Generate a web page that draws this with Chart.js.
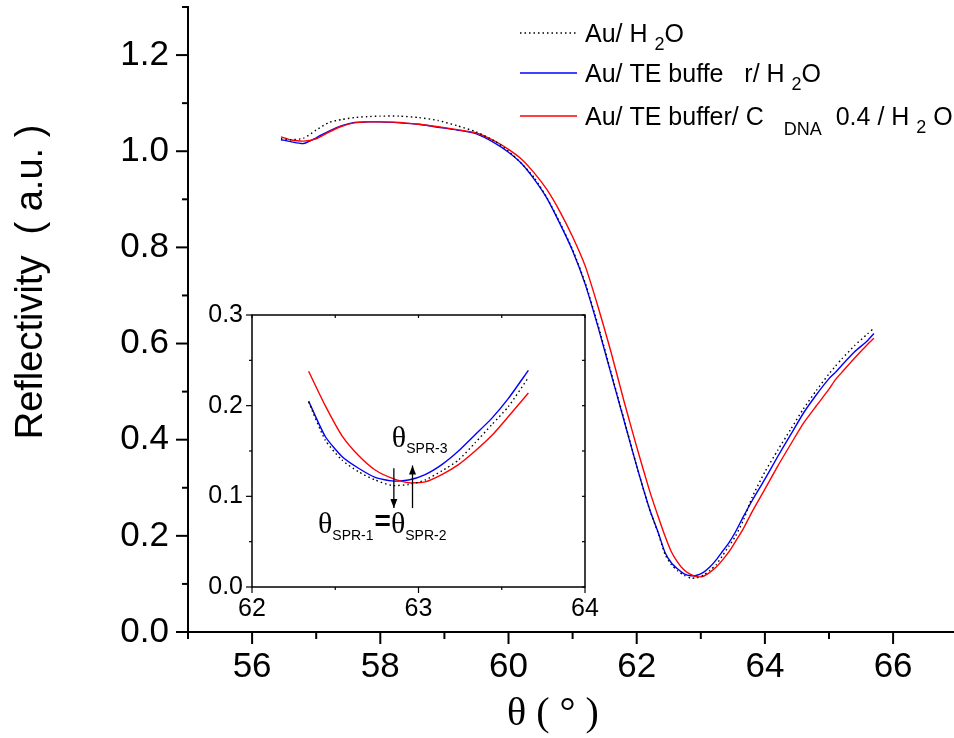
<!DOCTYPE html>
<html><head><meta charset="utf-8">
<script src="https://cdn.jsdelivr.net/npm/chart.js@4.4.1/dist/chart.umd.min.js"></script>
<style>
html,body{margin:0;padding:0;background:#fff;overflow:hidden;}
#wrap{position:relative;width:954px;height:738px;}
#main{position:absolute;left:0;top:0;}
#inset{position:absolute;left:190px;top:300px;}
</style></head>
<body><div id="wrap"><canvas id="main" width="954" height="738"></canvas><canvas id="inset" width="410" height="330"></canvas></div>
<script>
// ---------------- data ----------------
const theta = [56.45,56.6,56.8,57.0,57.2,57.4,57.6,57.8,58.0,58.3,58.6,58.9,59.2,59.5,59.8,60.0,60.2,60.4,60.6,60.8,61.0,61.2,61.4,61.6,61.8,62.0,62.2,62.34,62.44,62.54,62.64,62.74,62.84,62.94,63.04,63.14,63.24,63.34,63.44,63.54,63.66,63.8,64.0,64.2,64.4,64.6,64.8,65.0,65.1,65.2,65.4,65.6,65.7];
const auH2O = [1.026,1.024,1.027,1.044,1.060,1.066,1.070,1.072,1.073,1.073,1.070,1.064,1.053,1.040,1.020,1.000,0.975,0.945,0.903,0.852,0.795,0.725,0.637,0.540,0.443,0.345,0.255,0.204,0.162,0.140,0.127,0.118,0.112,0.113,0.118,0.128,0.140,0.159,0.179,0.199,0.231,0.280,0.333,0.378,0.421,0.464,0.502,0.537,0.553,0.568,0.596,0.620,0.632];
const auTE = [1.024,1.020,1.016,1.028,1.042,1.053,1.060,1.061,1.061,1.059,1.056,1.050,1.044,1.036,1.016,0.998,0.975,0.942,0.902,0.850,0.793,0.722,0.633,0.537,0.441,0.345,0.256,0.205,0.166,0.144,0.131,0.121,0.117,0.118,0.124,0.135,0.150,0.168,0.186,0.208,0.239,0.273,0.318,0.365,0.410,0.455,0.493,0.527,0.540,0.555,0.583,0.606,0.621];
const auDNA = [1.030,1.024,1.021,1.026,1.040,1.052,1.059,1.061,1.061,1.060,1.056,1.051,1.045,1.038,1.020,1.004,0.984,0.955,0.920,0.875,0.822,0.760,0.675,0.582,0.481,0.385,0.294,0.238,0.200,0.167,0.145,0.129,0.120,0.115,0.116,0.124,0.135,0.150,0.167,0.188,0.214,0.250,0.297,0.345,0.390,0.434,0.470,0.505,0.525,0.540,0.570,0.598,0.611];
const seriesNames = ['Au/ H2O', 'Au/ TE buffer/ H2O', 'Au/ TE buffer/ C DNA 0.4 / H2O'];
// legend text runs: [text, kind] kind 0 = normal, 1/2 = subscript
const legendRuns = [
  [['Au/ H ',0],['2',1],['O',0]],
  [['Au/ TE buffe   r/ H ',0],['2',1],['O',0]],
  [['Au/ TE buffer/ C',0],['    DNA',2],['  0.4 / H ',0],['2',1],[' O',0]]
];
const mainXTicks = [55,56,57,58,59,60,61,62,63,64,65,66];
const mainYTicks = [0,0.1,0.2,0.3,0.4,0.5,0.6,0.7,0.8,0.9,1.0,1.1,1.2,1.3];
const insetXTicks = [62,62.5,63,63.5,64];
const insetYTicks = [0,0.05,0.1,0.15,0.2,0.25,0.3];
const insetRange = [62.3, 63.7];
const xTitle = 'θ ( ° )';
const yTitle = 'Reflectivity  ( a.u. )';
// inset annotation anchors (data coordinates)
const arrowDown = {x: 62.852, from: 0.131, to: 0.087};
const arrowUp = {x: 62.964, from: 0.087, to: 0.134};
const label3At = {x: 62.84, y: 0.154};
const label12At = {x: 62.396, y: 0.0596};

// ---------------- styles ----------------
const SANS = "'Liberation Sans', Arial, sans-serif";
const SERIF = "'Liberation Serif', 'Times New Roman', serif";
const styles = [
  {color:'#000000', dash:[1.5,3], width:1.4, order:0},
  {color:'#0000ff', dash:[], width:1.4, order:2},
  {color:'#ff0000', dash:[], width:1.4, order:1}
];
const seriesValues = [auH2O, auTE, auDNA];

function pts(ys, lo, hi){
  return theta.map((x,i)=>({x:x, y:ys[i]})).filter(p=>p.x>=lo && p.x<=hi);
}
function makeDatasets(lo, hi){
  return seriesValues.map((ys,i)=>({
    label: seriesNames[i], data: pts(ys, lo, hi),
    borderColor: styles[i].color, borderDash: styles[i].dash, borderWidth: styles[i].width,
    pointRadius:0, fill:false, tension:0.2, order: styles[i].order
  }));
}
function drawRuns(ctx, x, y, runs){
  let cx = x;
  runs.forEach(r=>{
    ctx.font = r.font; ctx.fillText(r.t, cx, y + (r.dy||0));
    cx += ctx.measureText(r.t).width + (r.gap||0);
  });
}
function noPadX(s, h){ s.height = h; s.paddingLeft = 0; s.paddingRight = 0; }
function noPadY(s, w){ s.width = w; s.paddingTop = 0; s.paddingBottom = 0; }

// ---------------- main chart ----------------
const mainDecor = {
  id:'mainDecor',
  afterDraw(chart){
    const {ctx, scales:{x,y}, chartArea:a} = chart;
    ctx.save();
    ctx.strokeStyle='#000'; ctx.fillStyle='#000'; ctx.lineWidth=2;
    mainXTicks.forEach(v=>{
      const p=x.getPixelForValue(v); const major = v%2===0;
      ctx.beginPath(); ctx.moveTo(p,a.bottom); ctx.lineTo(p,a.bottom+(major?12:7)); ctx.stroke();
    });
    mainYTicks.forEach(v=>{
      const p=y.getPixelForValue(v); const major = Math.round(v*10)%2===0;
      ctx.beginPath(); ctx.moveTo(a.left,p); ctx.lineTo(a.left-(major?12:6),p); ctx.stroke();
    });
    // axis titles
    ctx.textAlign='center'; ctx.textBaseline='middle';
    ctx.save(); ctx.translate(32, 282); ctx.rotate(-Math.PI/2);
    ctx.font = `38px ${SANS}`; ctx.fillText(yTitle, 0, 0); ctx.restore();
    ctx.textBaseline='alphabetic';
    ctx.font = `40px ${SERIF}`; ctx.fillText(xTitle, 553, 725);
    // legend
    const rows=[33,73,116];
    ctx.textAlign='left';
    chart.data.datasets.forEach((ds,i)=>{
      const ly=rows[i];
      ctx.save(); ctx.strokeStyle=ds.borderColor; ctx.lineWidth=1.4; ctx.setLineDash(ds.borderDash||[]);
      ctx.beginPath(); ctx.moveTo(520,ly); ctx.lineTo(577,ly); ctx.stroke(); ctx.restore();
      const runs = legendRuns[i].map(r=>({t:r[0], font: r[1]===0?`25px ${SANS}`:`18px ${SANS}`, dy: r[1]===0?0:(r[1]===2?10:8)}));
      drawRuns(ctx, 585, ly+9, runs);
    });
    ctx.restore();
  }
};

new Chart(document.getElementById('main'), {
  type:'line',
  data:{datasets: makeDatasets(-Infinity, Infinity)},
  options:{
    responsive:false, animation:false,
    layout:{padding:{top:7,right:0,left:0,bottom:0}},
    plugins:{legend:{display:false}, tooltip:{enabled:false}},
    scales:{
      x:{type:'linear', min:55, max:66.95,
        afterBuildTicks: s=>{ s.ticks = mainXTicks.map(v=>({value:v})); },
        afterFit: s=>noPadX(s, 106),
        grid:{drawOnChartArea:false, drawTicks:false},
        border:{display:true, color:'#000', width:2},
        ticks:{autoSkip:false, maxRotation:0, padding:14, color:'#000', font:{family:SANS, size:35},
          callback: v => (v%2===0 ? String(v) : '')}
      },
      y:{type:'linear', min:0, max:1.3,
        afterBuildTicks: s=>{ s.ticks = mainYTicks.map(v=>({value:v})); },
        afterFit: s=>noPadY(s, 188),
        grid:{drawOnChartArea:false, drawTicks:false},
        border:{display:true, color:'#000', width:2},
        ticks:{autoSkip:false, padding:19, color:'#000', font:{family:SANS, size:35},
          callback: v => (Math.round(v*10)%2===0 ? v.toFixed(1) : '')}
      }
    }
  },
  plugins:[mainDecor]
});

// ---------------- inset chart ----------------
function arrow(ctx, x, y0, y1){
  ctx.beginPath(); ctx.moveTo(x,y0); ctx.lineTo(x,y1); ctx.stroke();
  const dir = y1>y0 ? 1 : -1;
  ctx.beginPath(); ctx.moveTo(x,y1); ctx.lineTo(x-3.5,y1-dir*9); ctx.lineTo(x+3.5,y1-dir*9); ctx.closePath(); ctx.fill();
}
const insetDecor = {
  id:'insetDecor',
  afterDraw(chart){
    const {ctx, scales:{x,y}, chartArea:a} = chart;
    ctx.save(); ctx.strokeStyle='#000'; ctx.fillStyle='#000'; ctx.lineWidth=1.5;
    ctx.strokeRect(a.left,a.top,a.right-a.left,a.bottom-a.top);
    ctx.lineWidth=1.2;
    insetXTicks.forEach(v=>{
      const p=x.getPixelForValue(v); const major=Number.isInteger(v);
      ctx.beginPath(); ctx.moveTo(p,a.bottom); ctx.lineTo(p,a.bottom+(major?6:3)); ctx.stroke();
      ctx.beginPath(); ctx.moveTo(p,a.top); ctx.lineTo(p,a.top+3); ctx.stroke();
    });
    insetYTicks.forEach(v=>{
      const p=y.getPixelForValue(v); const major=Math.round(v*100)%10===0;
      ctx.beginPath(); ctx.moveTo(a.left,p); ctx.lineTo(a.left-(major?6:3),p); ctx.stroke();
      ctx.beginPath(); ctx.moveTo(a.right,p); ctx.lineTo(a.right-3,p); ctx.stroke();
    });
    // arrows
    ctx.lineWidth=1.3;
    arrow(ctx, x.getPixelForValue(arrowDown.x), y.getPixelForValue(arrowDown.from), y.getPixelForValue(arrowDown.to));
    arrow(ctx, x.getPixelForValue(arrowUp.x), y.getPixelForValue(arrowUp.from), y.getPixelForValue(arrowUp.to));
    // labels
    ctx.textAlign='left'; ctx.textBaseline='alphabetic';
    const th = `30px ${SERIF}`, sb = `14px ${SANS}`;
    drawRuns(ctx, x.getPixelForValue(label3At.x), y.getPixelForValue(label3At.y),
      [{t:'θ',font:th},{t:'SPR-3',font:sb,dy:6}]);
    drawRuns(ctx, x.getPixelForValue(label12At.x), y.getPixelForValue(label12At.y),
      [{t:'θ',font:th},{t:'SPR-1',font:sb,dy:7,gap:1},{t:'=',font:`bold 28px ${SANS}`,dy:-3},{t:'θ',font:th},{t:'SPR-2',font:sb,dy:7}]);
    ctx.restore();
  }
};

new Chart(document.getElementById('inset'), {
  type:'line',
  data:{datasets: makeDatasets(insetRange[0], insetRange[1])},
  options:{
    responsive:false, animation:false,
    layout:{padding:{top:15,right:15,left:0,bottom:0}},
    plugins:{legend:{display:false}, tooltip:{enabled:false}},
    scales:{
      x:{type:'linear', min:62, max:64,
        afterBuildTicks: s=>{ s.ticks = insetXTicks.map(v=>({value:v})); },
        afterFit: s=>noPadX(s, 43),
        grid:{display:false, drawTicks:false}, border:{display:false},
        ticks:{autoSkip:false, maxRotation:0, padding:7, color:'#000', font:{family:SANS, size:25},
          callback: v => (Number.isInteger(v) ? String(v) : '')}
      },
      y:{type:'linear', min:0, max:0.3,
        afterBuildTicks: s=>{ s.ticks = insetYTicks.map(v=>({value:v})); },
        afterFit: s=>noPadY(s, 62),
        grid:{display:false, drawTicks:false}, border:{display:false},
        ticks:{autoSkip:false, padding:9, color:'#000', font:{family:SANS, size:25},
          callback: v => (Math.round(v*100)%10===0 ? v.toFixed(1) : '')}
      }
    }
  },
  plugins:[insetDecor]
});
</script>
</body></html>
